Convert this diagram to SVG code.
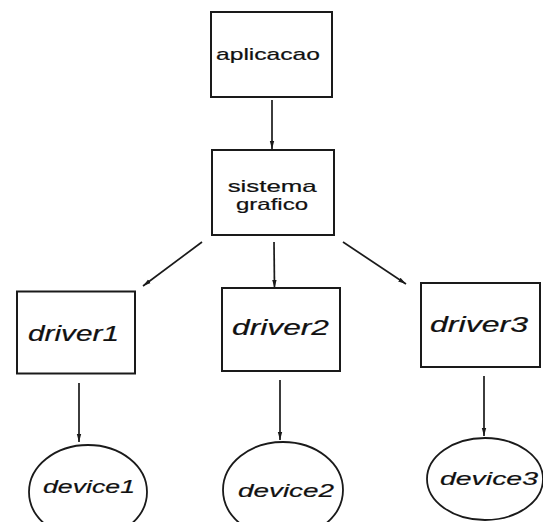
<svg xmlns="http://www.w3.org/2000/svg" width="543" height="522" viewBox="0 0 543 522">
<defs>
<marker id="ah" markerUnits="userSpaceOnUse" markerWidth="9" markerHeight="6" refX="8" refY="3" orient="auto">
<path d="M0,0.8 L8,3 L0,5.2 z" fill="#1a1a1a"/>
</marker>
<style>
.box{fill:#fff;stroke:#1a1a1a;stroke-width:2}
.ell{fill:#fff;stroke:#1a1a1a;stroke-width:1.8}
.lbl{font-family:"Liberation Sans",Arial,sans-serif;fill:#111;text-anchor:middle;stroke:#111;stroke-width:0.2}
.it{font-style:italic}
.conn line{stroke:#1a1a1a;stroke-width:1.7;marker-end:url(#ah)}
</style>
</defs>
<rect width="543" height="522" fill="#fff"/>
<g id="connectors" class="conn">
<line x1="272" y1="100" x2="272" y2="149"/>
<line x1="202" y1="242" x2="143" y2="286"/>
<line x1="274" y1="242" x2="274.5" y2="288"/>
<line x1="343" y1="242" x2="406" y2="284"/>
<line x1="79" y1="383" x2="79" y2="442"/>
<line x1="280" y1="380" x2="280" y2="440"/>
<line x1="484" y1="376" x2="484" y2="436"/>
</g>
<g id="aplicacao">
<rect class="box" x="211" y="12" width="121" height="85"/>
<text class="lbl" x="268" y="60" font-size="17" textLength="104" lengthAdjust="spacingAndGlyphs">aplicacao</text>
</g>
<g id="sistema">
<rect class="box" x="212" y="150" width="122" height="85"/>
<text class="lbl" x="272.2" y="191.5" font-size="16.5" textLength="89" lengthAdjust="spacingAndGlyphs">sistema</text>
<text class="lbl" x="272" y="210" font-size="16.5" textLength="72" lengthAdjust="spacingAndGlyphs">grafico</text>
</g>
<g id="driver1">
<rect class="box" x="17" y="291.5" width="118" height="82"/>
<text class="lbl it" x="73.5" y="341" font-size="22" textLength="91" lengthAdjust="spacingAndGlyphs">driver1</text>
</g>
<g id="driver2">
<rect class="box" x="222" y="288" width="118" height="83"/>
<text class="lbl it" x="280.5" y="335" font-size="22" textLength="97" lengthAdjust="spacingAndGlyphs">driver2</text>
</g>
<g id="driver3">
<rect class="box" x="421" y="283" width="119" height="84"/>
<text class="lbl it" x="479" y="332" font-size="22" textLength="98" lengthAdjust="spacingAndGlyphs">driver3</text>
</g>
<g id="device1">
<ellipse class="ell" cx="88" cy="492" rx="59" ry="47"/>
<text class="lbl it" x="89" y="493" font-size="19" textLength="92" lengthAdjust="spacingAndGlyphs">device1</text>
</g>
<g id="device2">
<ellipse class="ell" cx="283" cy="490" rx="60" ry="48"/>
<text class="lbl it" x="286" y="497" font-size="19" textLength="96" lengthAdjust="spacingAndGlyphs">device2</text>
</g>
<g id="device3">
<ellipse class="ell" cx="485" cy="479" rx="58" ry="41"/>
<text class="lbl it" x="489" y="485" font-size="19" textLength="98" lengthAdjust="spacingAndGlyphs">device3</text>
</g>
</svg>
